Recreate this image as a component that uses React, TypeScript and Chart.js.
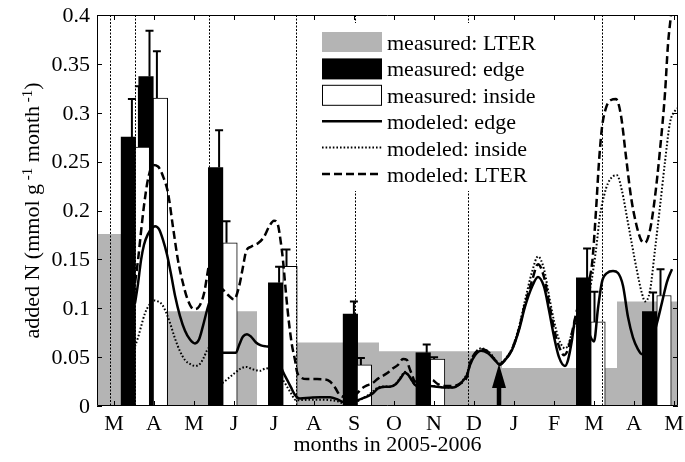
import { useEffect, useRef } from 'react';
import { Chart, registerables } from 'chart.js';

Chart.register(...registerables);

// ---------- data ----------
const monthLabels = ['M', 'A', 'M', 'J', 'J', 'A', 'S', 'O', 'N', 'D', 'J', 'F', 'M', 'A', 'M'];
const yTickValues = [0, 0.05, 0.1, 0.15, 0.2, 0.25, 0.3, 0.35, 0.4];
const xMin = -0.425;
const xMax = 14.1;

// measured LTER (step periods: start month of each period, value)
const lterStartMonths = [-0.425, 1.325, 3.575, 4.575, 6.625, 9.7, 12.575, 14.1];
const lterValues = [0.176, 0.097, 0, 0.065, 0.056, 0.039, 0.107, 0.107];

// measured edge
const edgeMonths = [0.36, 0.8, 2.54, 4.04, 5.91, 7.73, 11.74, 13.39];
const edgeValues = [0.275, 0.337, 0.244, 0.126, 0.094, 0.0545, 0.131, 0.0965];
const edgeUpper = [0.314, 0.384, 0.282, 0.1425, 0.107, 0.063, 0.161, 0.116];

// measured inside
const insideMonths = [0.71, 1.16, 2.9, 4.4, 6.26, 8.09, 12.1, 13.75];
const insideValues = [0.265, 0.315, 0.167, 0.143, 0.042, 0.048, 0.086, 0.113];
const insideUpper = [0.327, 0.363, 0.189, 0.16, 0.049, 0.05, 0.117, 0.14];

// modeled edge
const modelEdgeMonths1 = [0.525, 0.6, 0.675, 0.75, 0.85, 0.95, 1.025, 1.125, 1.225, 1.325, 1.425, 1.525, 1.65, 1.775, 1.9, 2.025, 2.125, 2.225, 2.325, 2.375];
const modelEdgeValues1 = [0.105, 0.125, 0.149, 0.165, 0.176, 0.182, 0.184, 0.181, 0.17, 0.155, 0.135, 0.113, 0.092, 0.077, 0.068, 0.064, 0.068, 0.082, 0.098, 0.105];
const modelEdgeMonths2 = [2.375, 2.725, 3.05, 3.125, 3.225, 3.325, 3.425, 3.55, 3.675, 3.8, 3.925, 4.05, 4.15, 4.225, 4.325, 4.425, 4.5, 4.575, 4.65, 4.9, 5.15, 5.4, 5.575, 5.7, 5.85, 6.0, 6.1, 6.225, 6.325, 6.475, 6.6, 6.775, 6.9, 7.05, 7.175, 7.275, 7.35, 7.45, 7.525, 7.7, 7.9, 8.075, 8.225, 8.475, 8.65, 8.75, 8.825, 8.9, 9.025, 9.175, 9.35, 9.525, 9.625, 9.775, 9.95, 10.125, 10.275, 10.45, 10.6, 10.75, 10.875, 11.0, 11.125, 11.275, 11.35, 11.45, 11.525, 11.725, 11.9, 12.0, 12.1, 12.2, 12.325, 12.475, 12.6, 12.725, 12.85, 12.975, 13.1, 13.2, 13.325, 13.45, 13.575, 13.7, 13.825, 13.95];
const modelEdgeValues2 = [0.0545, 0.0545, 0.0545, 0.062, 0.071, 0.0735, 0.071, 0.065, 0.062, 0.061, 0.06, 0.052, 0.043, 0.035, 0.027, 0.019, 0.013, 0.009, 0.0078, 0.0085, 0.009, 0.009, 0.007, 0.0045, 0.003, 0.004, 0.006, 0.008, 0.0095, 0.013, 0.018, 0.0198, 0.0198, 0.0225, 0.029, 0.034, 0.032, 0.026, 0.0215, 0.02, 0.0205, 0.0198, 0.019, 0.019, 0.0225, 0.027, 0.0317, 0.042, 0.052, 0.0566, 0.0539, 0.047, 0.0427, 0.047, 0.0573, 0.0778, 0.1016, 0.122, 0.132, 0.122, 0.098, 0.071, 0.05, 0.041, 0.047, 0.0675, 0.088, 0.095, 0.072, 0.066, 0.1, 0.127, 0.136, 0.138, 0.136, 0.123, 0.091, 0.07, 0.058, 0.053, 0.057, 0.068, 0.085, 0.106, 0.127, 0.14];

// modeled inside
const modelInsideMonths1 = [0.525, 0.6, 0.675, 0.775, 0.875, 1.0, 1.1, 1.2, 1.3, 1.4, 1.525, 1.65, 1.775, 1.9, 2.025, 2.15, 2.25, 2.325, 2.375];
const modelInsideValues1 = [0.061, 0.07, 0.081, 0.095, 0.103, 0.108, 0.107, 0.104, 0.096, 0.085, 0.069, 0.056, 0.047, 0.043, 0.041, 0.043, 0.05, 0.057, 0.06];
const modelInsideMonths2 = [2.375, 2.525, 2.725, 2.85, 3.025, 3.175, 3.3, 3.475, 3.65, 3.8, 3.95, 4.1, 4.225, 4.325, 4.425, 4.55, 4.65, 4.9, 5.15, 5.4, 5.575, 5.7, 5.9, 6.1, 6.225, 6.35, 6.475, 6.6, 6.775, 6.9, 7.05, 7.175, 7.275, 7.35, 7.45, 7.525, 7.7, 7.9, 8.075, 8.225, 8.475, 8.65, 8.75, 8.825, 8.9, 9.025, 9.175, 9.35, 9.525, 9.625, 9.775, 9.95, 10.125, 10.275, 10.45, 10.6, 10.75, 10.875, 11.0, 11.125, 11.275, 11.35, 11.45, 11.65, 11.9, 12.05, 12.15, 12.25, 12.35, 12.475, 12.575, 12.7, 12.825, 12.95, 13.075, 13.2, 13.275, 13.4, 13.525, 13.65, 13.775, 13.9, 14.025, 14.1];
const modelInsideValues2 = [0.018, 0.02, 0.024, 0.028, 0.034, 0.0385, 0.04, 0.0375, 0.036, 0.0385, 0.037, 0.033, 0.0266, 0.02, 0.013, 0.006, 0.006, 0.0065, 0.0065, 0.006, 0.005, 0.003, 0.002, 0.005, 0.008, 0.011, 0.015, 0.019, 0.02, 0.02, 0.023, 0.03, 0.035, 0.032, 0.026, 0.0215, 0.02, 0.0205, 0.02, 0.019, 0.019, 0.0225, 0.028, 0.033, 0.044, 0.054, 0.059, 0.056, 0.048, 0.0435, 0.048, 0.059, 0.081, 0.108, 0.137, 0.153, 0.14, 0.113, 0.087, 0.068, 0.059, 0.062, 0.075, 0.095, 0.12, 0.16, 0.195, 0.215, 0.228, 0.235, 0.236, 0.22, 0.193, 0.165, 0.138, 0.115, 0.107, 0.118, 0.16, 0.204, 0.25, 0.29, 0.302, 0.305];

// modeled LTER
const modelLterMonths1 = [0.525, 0.6, 0.675, 0.75, 0.85, 0.975, 1.1, 1.225, 1.35, 1.475, 1.6, 1.725, 1.85, 2.0, 2.125, 2.25, 2.35, 2.375];
const modelLterValues1 = [0.126, 0.149, 0.178, 0.205, 0.232, 0.2465, 0.245, 0.235, 0.218, 0.183, 0.149, 0.1255, 0.108, 0.099, 0.1016, 0.115, 0.139, 0.145];
const modelLterMonths2 = [2.375, 2.55, 2.725, 2.85, 3.0, 3.125, 3.225, 3.3, 3.425, 3.6, 3.75, 3.875, 4.0, 4.1, 4.175, 4.225, 4.3, 4.375, 4.45, 4.525, 4.575, 4.65, 4.825, 5.075, 5.275, 5.4, 5.525, 5.65, 5.85, 6.05, 6.2, 6.325, 6.45, 6.6, 6.825, 6.975, 7.1, 7.225, 7.325, 7.375, 7.45, 7.525, 7.725, 7.95, 8.075, 8.225, 8.475, 8.65, 8.825, 8.9, 9.025, 9.2, 9.35, 9.525, 9.65, 9.775, 9.95, 10.125, 10.275, 10.45, 10.6, 10.75, 10.875, 11.0, 11.125, 11.25, 11.35, 11.45, 11.575, 11.775, 11.95, 12.05, 12.125, 12.2, 12.3, 12.425, 12.55, 12.675, 12.8, 12.925, 13.05, 13.175, 13.275, 13.4, 13.525, 13.65, 13.775, 13.85, 13.925, 14.0];
const modelLterValues2 = [0.13, 0.125, 0.119, 0.1136, 0.109, 0.122, 0.1425, 0.158, 0.163, 0.1664, 0.173, 0.1834, 0.1896, 0.185, 0.166, 0.149, 0.115, 0.085, 0.062, 0.047, 0.035, 0.03, 0.0275, 0.0275, 0.0272, 0.025, 0.019, 0.011, 0.009, 0.012, 0.018, 0.021, 0.023, 0.028, 0.0334, 0.0385, 0.042, 0.048, 0.047, 0.04, 0.032, 0.025, 0.025, 0.0266, 0.023, 0.0205, 0.0205, 0.023, 0.03, 0.0437, 0.054, 0.058, 0.0556, 0.047, 0.042, 0.047, 0.058, 0.079, 0.104, 0.128, 0.145, 0.132, 0.106, 0.079, 0.061, 0.052, 0.058, 0.075, 0.098, 0.12, 0.145, 0.2, 0.25, 0.285, 0.305, 0.313, 0.314, 0.297, 0.255, 0.214, 0.187, 0.17, 0.167, 0.18, 0.214, 0.262, 0.32, 0.37, 0.4, 0.43];

// dashed vertical markers (measurement dates) and the arrow
const dividerMonths = [-0.1125, 0.525, 2.375, 4.55, 6.025, 8.85, 12.1875];
const arrowMonth = 9.625;
const arrowValue = 0.043;

const legendLabels = [
  'measured: LTER',
  'measured: edge',
  'measured: inside',
  'modeled: edge',
  'modeled: inside',
  'modeled: LTER',
];

const xTitle = 'months in 2005-2006';

// ---------- styles ----------
const FONT = '"Liberation Serif", "Times New Roman", Times, serif';
const GRAY = 'rgb(180,180,180)';

function toPoints(months: number[], values: number[]) {
  return months.map((m, i) => ({ x: m, y: values[i] }));
}

function joinSegments(...segs: { x: number; y: number | null }[][]) {
  const out: { x: number; y: number | null }[] = [];
  segs.forEach((s, i) => {
    if (i > 0) out.push({ x: s[0].x, y: null });
    out.push(...s);
  });
  return out;
}

const overlayPlugin = {
  id: 'overlay',
  afterDatasetsDraw(chart: any) {
    const { ctx, chartArea: a, scales } = chart;
    const X = (v: number) => scales.x.getPixelForValue(v);
    const Y = (v: number) => scales.y.getPixelForValue(v);
    ctx.save();

    // vertical dashed markers
    ctx.strokeStyle = '#000';
    ctx.lineWidth = 1;
    ctx.setLineDash([2, 1.5]);
    dividerMonths.forEach((m) => {
      const px = Math.round(X(m)) + 0.5;
      ctx.beginPath();
      ctx.moveTo(px, a.top);
      ctx.lineTo(px, a.bottom);
      ctx.stroke();
    });
    ctx.setLineDash([]);

    // error bars
    const drawErr = (months: number[], vals: number[], ups: number[], dx: number) => {
      ctx.lineWidth = 2;
      ctx.strokeStyle = '#000';
      months.forEach((m, i) => {
        const cx = X(m) + dx;
        const y0 = Y(vals[i]);
        const y1 = Y(ups[i]);
        ctx.beginPath();
        ctx.moveTo(cx, y0);
        ctx.lineTo(cx, y1);
        ctx.moveTo(cx - 4, y1);
        ctx.lineTo(cx + 4, y1);
        ctx.stroke();
      });
    };
    drawErr(edgeMonths, edgeValues, edgeUpper, 3.5);
    drawErr(insideMonths, insideValues, insideUpper, -3.5);

    // arrow
    {
      const ax = X(arrowMonth);
      const tip = Y(arrowValue);
      const headH = 24;
      const headW = 14;
      const shaftW = 4.5;
      ctx.fillStyle = '#000';
      ctx.beginPath();
      ctx.moveTo(ax, tip);
      ctx.lineTo(ax + headW / 2, tip + headH);
      ctx.lineTo(ax - headW / 2, tip + headH);
      ctx.closePath();
      ctx.fill();
      ctx.fillRect(ax - shaftW / 2, tip + headH - 1, shaftW, a.bottom - (tip + headH - 1));
    }

    // legend background
    const lx = a.left + 225;
    const ly = a.top + 27;
    const rowH = 26.4;
    ctx.fillStyle = '#fff';
    ctx.fillRect(lx - 6, a.top + 8, 236, 168);

    // frame and inward ticks
    ctx.strokeStyle = '#000';
    ctx.lineWidth = 1;
    ctx.beginPath();
    ctx.rect(Math.round(a.left) + 0.5, Math.round(a.top) + 0.5, Math.round(a.width) - 1, Math.round(a.height) - 1);
    ctx.stroke();
    ctx.beginPath();
    monthLabels.forEach((_, i) => {
      const px = Math.round(X(i)) + 0.5;
      ctx.moveTo(px, a.bottom);
      ctx.lineTo(px, a.bottom - 5);
      ctx.moveTo(px, a.top);
      ctx.lineTo(px, a.top + 5);
    });
    yTickValues.forEach((v) => {
      const py = Math.round(Y(v)) + 0.5;
      ctx.moveTo(a.left, py);
      ctx.lineTo(a.left + 5, py);
      ctx.moveTo(a.right, py);
      ctx.lineTo(a.right - 5, py);
    });
    ctx.stroke();

    // legend items
    const patchW = 60;
    ctx.font = `22px ${FONT}`;
    ctx.textAlign = 'left';
    ctx.textBaseline = 'alphabetic';
    legendLabels.forEach((label, i) => {
      const cy = ly + i * rowH;
      if (i === 0) {
        ctx.fillStyle = GRAY;
        ctx.fillRect(lx, cy - 10, patchW, 20);
      } else if (i === 1) {
        ctx.fillStyle = '#000';
        ctx.fillRect(lx, cy - 10, patchW, 21);
      } else if (i === 2) {
        ctx.fillStyle = '#fff';
        ctx.fillRect(lx, cy - 10, patchW, 21);
        ctx.strokeStyle = '#000';
        ctx.lineWidth = 1;
        ctx.strokeRect(lx + 0.5, cy - 9.5, patchW - 1, 20);
      } else {
        ctx.strokeStyle = '#000';
        if (i === 3) {
          ctx.lineWidth = 2.5;
          ctx.setLineDash([]);
        } else if (i === 4) {
          ctx.lineWidth = 2;
          ctx.setLineDash([1.6, 2]);
        } else {
          ctx.lineWidth = 2.5;
          ctx.setLineDash([8, 4]);
        }
        ctx.beginPath();
        ctx.moveTo(lx, cy);
        ctx.lineTo(lx + patchW, cy);
        ctx.stroke();
        ctx.setLineDash([]);
      }
      ctx.fillStyle = '#000';
      ctx.fillText(label, lx + patchW + 5, cy + 8);
    });

    // tick labels
    ctx.fillStyle = '#000';
    ctx.font = `22px ${FONT}`;
    ctx.textAlign = 'center';
    ctx.textBaseline = 'alphabetic';
    monthLabels.forEach((lab, i) => {
      ctx.fillText(lab, X(i), a.bottom + 24);
    });
    ctx.textAlign = 'right';
    ctx.textBaseline = 'middle';
    yTickValues.forEach((v) => {
      ctx.fillText(String(Number(v.toFixed(2))), a.left - 7, Y(v) + 1);
    });

    // x title
    ctx.textAlign = 'center';
    ctx.textBaseline = 'alphabetic';
    ctx.fillText(xTitle, (a.left + a.right) / 2, a.bottom + 45);

    // y title with superscripts
    {
      const parts: [string, boolean][] = [
        ['added N (mmol g', false],
        [' -1', true],
        [' month', false],
        [' -1', true],
        [')', false],
      ];
      const big = `22px ${FONT}`;
      const small = `15px ${FONT}`;
      let total = 0;
      parts.forEach(([t, sup]) => {
        ctx.font = sup ? small : big;
        total += ctx.measureText(t).width;
      });
      ctx.translate(38.5, (a.top + a.bottom) / 2);
      ctx.rotate(-Math.PI / 2);
      ctx.textAlign = 'left';
      ctx.textBaseline = 'alphabetic';
      let x = -total / 2;
      parts.forEach(([t, sup]) => {
        ctx.font = sup ? small : big;
        ctx.fillText(t, x, sup ? -7 : 0);
        x += ctx.measureText(t).width;
      });
    }
    ctx.restore();
  },
};

export default function App() {
  const canvasRef = useRef<HTMLCanvasElement | null>(null);

  useEffect(() => {
    const canvas = canvasRef.current;
    if (!canvas) return;

    const chart = new Chart(canvas, {
      type: 'line',
      data: {
        datasets: [
          {
            type: 'line',
            label: legendLabels[3],
            data: joinSegments(toPoints(modelEdgeMonths1, modelEdgeValues1), toPoints(modelEdgeMonths2, modelEdgeValues2)),
            borderColor: '#000',
            borderWidth: 2.5,
            pointRadius: 0,
            fill: false,
            cubicInterpolationMode: 'monotone',
            spanGaps: false,
            order: 0,
          },
          {
            type: 'line',
            label: legendLabels[4],
            data: joinSegments(toPoints(modelInsideMonths1, modelInsideValues1), toPoints(modelInsideMonths2, modelInsideValues2)),
            borderColor: '#000',
            borderWidth: 2,
            borderDash: [1.6, 2],
            pointRadius: 0,
            fill: false,
            cubicInterpolationMode: 'monotone',
            spanGaps: false,
            order: 1,
          },
          {
            type: 'line',
            label: legendLabels[5],
            data: joinSegments(toPoints(modelLterMonths1, modelLterValues1), toPoints(modelLterMonths2, modelLterValues2)),
            borderColor: '#000',
            borderWidth: 2.5,
            borderDash: [8, 4],
            pointRadius: 0,
            fill: false,
            cubicInterpolationMode: 'monotone',
            spanGaps: false,
            order: 2,
          },
          {
            type: 'bar',
            label: legendLabels[2],
            data: toPoints(insideMonths, insideValues),
            backgroundColor: '#fff',
            borderColor: '#000',
            borderWidth: 1,
            barThickness: 14.5,
            grouped: false,
            order: 3,
          },
          {
            type: 'bar',
            label: legendLabels[1],
            data: toPoints(edgeMonths, edgeValues),
            backgroundColor: '#000',
            borderColor: '#000',
            borderWidth: 0,
            barThickness: 14.5,
            grouped: false,
            order: 4,
          },
          {
            type: 'line',
            label: legendLabels[0],
            data: toPoints(lterStartMonths, lterValues),
            stepped: 'before',
            borderColor: 'rgba(0,0,0,0)',
            borderWidth: 0,
            backgroundColor: GRAY,
            fill: 'origin',
            pointRadius: 0,
            order: 5,
          },
        ],
      } as any,
      options: {
        responsive: false,
        animation: false,
        devicePixelRatio: 1,
        events: [],
        layout: { padding: { left: 97, top: 15, right: 7, bottom: 56 } },
        scales: {
          x: { type: 'linear', display: false, offset: false, min: xMin, max: xMax },
          y: { type: 'linear', display: false, min: 0, max: 0.4 },
        },
        plugins: {
          legend: { display: false },
          tooltip: { enabled: false },
        },
      } as any,
      plugins: [overlayPlugin],
    });

    return () => chart.destroy();
  }, []);

  return (
    <div style={{ position: 'fixed', left: 0, top: 0, width: 685, height: 462, background: '#fff' }}>
      <canvas ref={canvasRef} width={685} height={462} style={{ display: 'block' }} />
    </div>
  );
}
